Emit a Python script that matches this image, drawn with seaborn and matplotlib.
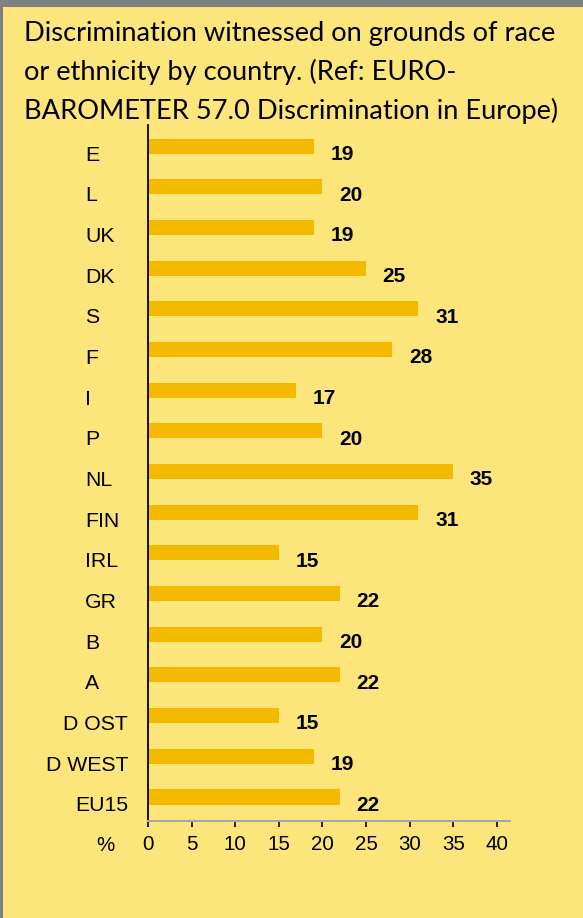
import numpy as np
import pandas as pd
import matplotlib
matplotlib.use("Agg")
import matplotlib.pyplot as plt
from matplotlib.patches import Rectangle
import matplotlib.transforms as mtransforms
import seaborn as sns

# data
countries = ["E", "L", "UK", "DK", "S", "F", "I", "P", "NL", "FIN",
             "IRL", "GR", "B", "A", "D OST", "D WEST", "EU15"]
values = [19, 20, 19, 25, 31, 28, 17, 20, 35, 31, 15, 22, 20, 22, 15, 19, 22]
xticks = [0, 5, 10, 15, 20, 25, 30, 35, 40]

title = ("Discrimination witnessed on grounds of race\n"
         "or ethnicity by country. (Ref: EURO-\n"
         "BAROMETER 57.0 Discrimination in Europe)")

bg = "#FCE67B"
bar_col = "#F4BA00"
border = "#808080"

df = pd.DataFrame({"country": countries, "value": values})

W, H = 583, 918
fig = plt.figure(figsize=(W / 100, H / 100), dpi=100, facecolor=bg)
# grey frame strips (top and left) like the screenshot
fig.patches.append(Rectangle((0, 1 - 7 / H), 1, 7 / H, transform=fig.transFigure,
                             facecolor=border, edgecolor="none"))
fig.patches.append(Rectangle((0, 0), 3 / W, 1, transform=fig.transFigure,
                             facecolor=border, edgecolor="none"))

ax = fig.add_axes([148 / W, (H - 821) / H, (510 - 148) / W, (821 - 125) / H])
ax.set_facecolor("none")

sns.barplot(data=df, x="value", y="country", orient="h", color=bar_col,
            width=0.37, saturation=1, edgecolor="none", ax=ax)

n = len(countries)
ax.set_ylim(n - 1 + 0.59, -0.52)
ax.set_xlim(0, 41.5)
ax.set_xlabel("")
ax.set_ylabel("")

# category labels drawn by hand: short ones left aligned, long ones right aligned
ax.set_yticks([])
trans = mtransforms.blended_transform_factory(ax.transAxes, ax.transData)
for i, c in enumerate(countries):
    if len(c) >= 4:
        ax.text(-20 / 362, i + 0.22, c, transform=trans, ha="right", va="center",
                fontsize=15.3, family="Liberation Sans")
    else:
        ax.text(-63 / 362, i + 0.22, c, transform=trans, ha="left", va="center",
                fontsize=15.3, family="Liberation Sans")

ax.set_xticks(xticks)
ax.set_xticklabels([str(t) for t in xticks], fontsize=14.8, family="Liberation Sans")
ax.tick_params(axis="x", length=4, width=1.2, color="black", pad=6)
ax.text(-43 / 362, -0.021, "%", transform=ax.transAxes, fontsize=14.8,
        family="Liberation Sans", ha="center", va="top")

for s in ["top", "right"]:
    ax.spines[s].set_visible(False)
ax.spines["left"].set_color("black")
ax.spines["left"].set_linewidth(1.3)
ax.spines["bottom"].set_color("#A6A6A6")
ax.spines["bottom"].set_linewidth(1.5)

# value labels
for i, v in enumerate(values):
    ax.annotate(str(v), xy=(v, i), xytext=(12, -6), textcoords="offset points",
                fontsize=15, fontweight="bold", family="Liberation Sans",
                ha="left", va="center")

fig.text(24 / W, 1 - 21 / H, title, fontsize=19.6, family="Lato",
         ha="left", va="top", linespacing=1.62)

fig.savefig("out.png", dpi=100, facecolor=bg)
